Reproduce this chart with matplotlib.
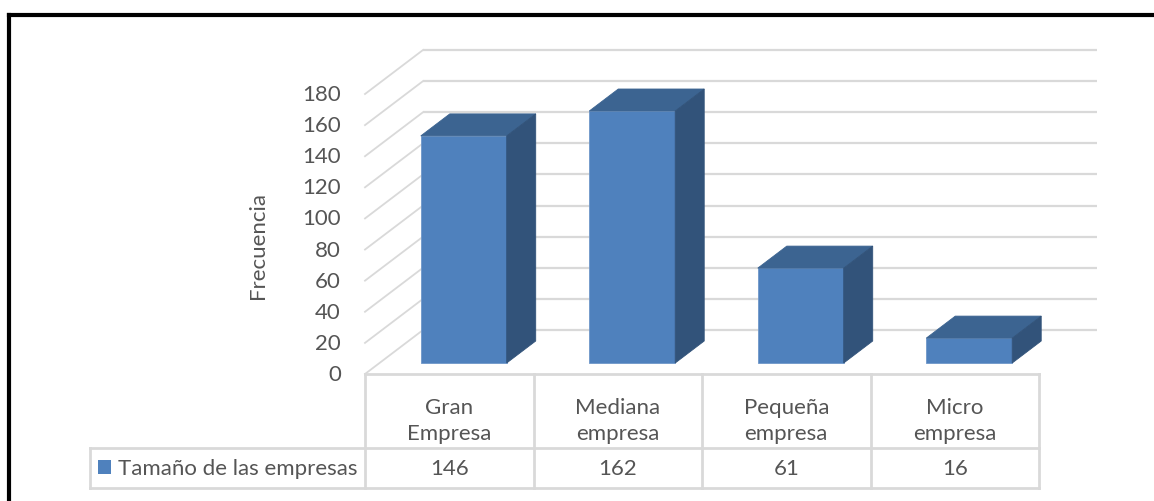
import matplotlib
matplotlib.use("Agg")
import matplotlib.pyplot as plt
from matplotlib.patches import Polygon, Rectangle
from matplotlib.lines import Line2D

# ---- data ----
categories = ["Gran\nEmpresa", "Mediana\nempresa", "Pequeña\nempresa", "Micro\nempresa"]
values = [146, 162, 61, 16]
series_name = "Tamaño de las empresas"
y_ticks = [0, 20, 40, 60, 80, 100, 120, 140, 160, 180]
axis_title = "Frecuencia"

# ---- styling ----
FRONT = "#4F81BD"
TOP = "#3C6491"
SIDE = "#32537A"
GRID = "#D9D9D9"
TEXT = "#555555"
FONT = "Lato"
FS = 16

W_PX, H_PX = 1154, 502
X0_PX = 365.0            # left edge of plot floor (pixels)
CAT_W_PX = 168.5         # width of one category (pixels)
Y0_PX = 375.0            # baseline of value axis (pixels from top)
UNIT_PX = 280.0 / 180.0  # pixels per value unit

# depth of the 3-D box, in data units
DX = 58.0 / CAT_W_PX
DY = 44.0 / UNIT_PX
BAR_W = 0.51
DEPTH_FRONT, DEPTH_BACK = 0.25, 0.75

fig = plt.figure(figsize=(W_PX / 100, H_PX / 100), dpi=100)
ax = fig.add_axes([0, 0, 1, 1])
ax.set_xlim(-X0_PX / CAT_W_PX, (W_PX - X0_PX) / CAT_W_PX)
ax.set_ylim((Y0_PX - H_PX) / UNIT_PX, Y0_PX / UNIT_PX)
ax.axis("off")

n = len(categories)

# back wall gridlines and left wall diagonals
for v in y_ticks:
    ax.plot([DX, n + DX], [v + DY, v + DY], color=GRID, lw=1.6,
            solid_capstyle="butt", zorder=1)
    ax.plot([0, DX], [v, v + DY], color=GRID, lw=1.3, zorder=1)

# tick labels
for v in y_ticks:
    ax.text(-24 / CAT_W_PX, v, str(v), ha="right", va="center",
            fontsize=FS, color=TEXT, family=FONT)

# axis title
ax.text(-107 / CAT_W_PX, (Y0_PX - 246) / UNIT_PX, axis_title, rotation=90,
        ha="center", va="center", fontsize=FS, color=TEXT, family=FONT)

# 3-D bars
for i, v in enumerate(values):
    cx = i + 0.5
    x0 = cx - BAR_W / 2 + DEPTH_FRONT * DX
    x1 = cx + BAR_W / 2 + DEPTH_FRONT * DX
    yb = DEPTH_FRONT * DY
    yt = v + DEPTH_FRONT * DY
    ddx = (DEPTH_BACK - DEPTH_FRONT) * DX
    ddy = (DEPTH_BACK - DEPTH_FRONT) * DY
    front = Polygon([(x0, yb), (x1, yb), (x1, yt), (x0, yt)], closed=True,
                    facecolor=FRONT, edgecolor="#6F97C9", lw=0.6, zorder=3)
    top = Polygon([(x0, yt), (x1, yt), (x1 + ddx, yt + ddy), (x0 + ddx, yt + ddy)],
                  closed=True, facecolor=TOP, edgecolor=TOP, lw=0.6, zorder=3)
    side = Polygon([(x1, yb), (x1 + ddx, yb + ddy), (x1 + ddx, yt + ddy), (x1, yt)],
                   closed=True, facecolor=SIDE, edgecolor=SIDE, lw=0.6, zorder=3)
    for p in (front, top, side):
        ax.add_patch(p)

# data table under the plot
row1 = (Y0_PX - 449) / UNIT_PX
row2 = (Y0_PX - 489) / UNIT_PX
leg_left = (90 - X0_PX) / CAT_W_PX
tkw = dict(color=GRID, lw=2.0, zorder=2, solid_capstyle="projecting")
ax.plot([0, n], [0, 0], **tkw)
ax.plot([leg_left, n], [row1, row1], **tkw)
ax.plot([leg_left, n], [row2, row2], **tkw)
for i in range(n + 1):
    ax.plot([i, i], [0, row2], **tkw)
ax.plot([leg_left, leg_left], [row1, row2], **tkw)

for i, (c, v) in enumerate(zip(categories, values)):
    ax.text(i + 0.5, (Y0_PX - 421) / UNIT_PX, c, ha="center", va="center",
            fontsize=FS, color=TEXT, family=FONT, linespacing=1.38)
    ax.text(i + 0.5, (row1 + row2) / 2, str(v), ha="center", va="center",
            fontsize=FS, color=TEXT, family=FONT)

# legend key in the table
ax.add_patch(Rectangle(((98 - X0_PX) / CAT_W_PX, (Y0_PX - 475) / UNIT_PX),
                       13 / CAT_W_PX, 14 / UNIT_PX, facecolor=FRONT,
                       edgecolor="none", zorder=3))
ax.text((118 - X0_PX) / CAT_W_PX, (row1 + row2) / 2, series_name, ha="left",
        va="center", fontsize=FS, color=TEXT, family=FONT)

# outer frame (top and left edges)
fig.add_artist(Line2D([9 / W_PX, 1.0], [1 - 15.5 / H_PX, 1 - 15.5 / H_PX],
                      transform=fig.transFigure, color="black", lw=3.0,
                      solid_capstyle="projecting"))
fig.add_artist(Line2D([9 / W_PX, 9 / W_PX], [0.0, 1 - 15.5 / H_PX],
                      transform=fig.transFigure, color="black", lw=3.0,
                      solid_capstyle="projecting"))

fig.savefig("out.png", dpi=100, facecolor="white")
